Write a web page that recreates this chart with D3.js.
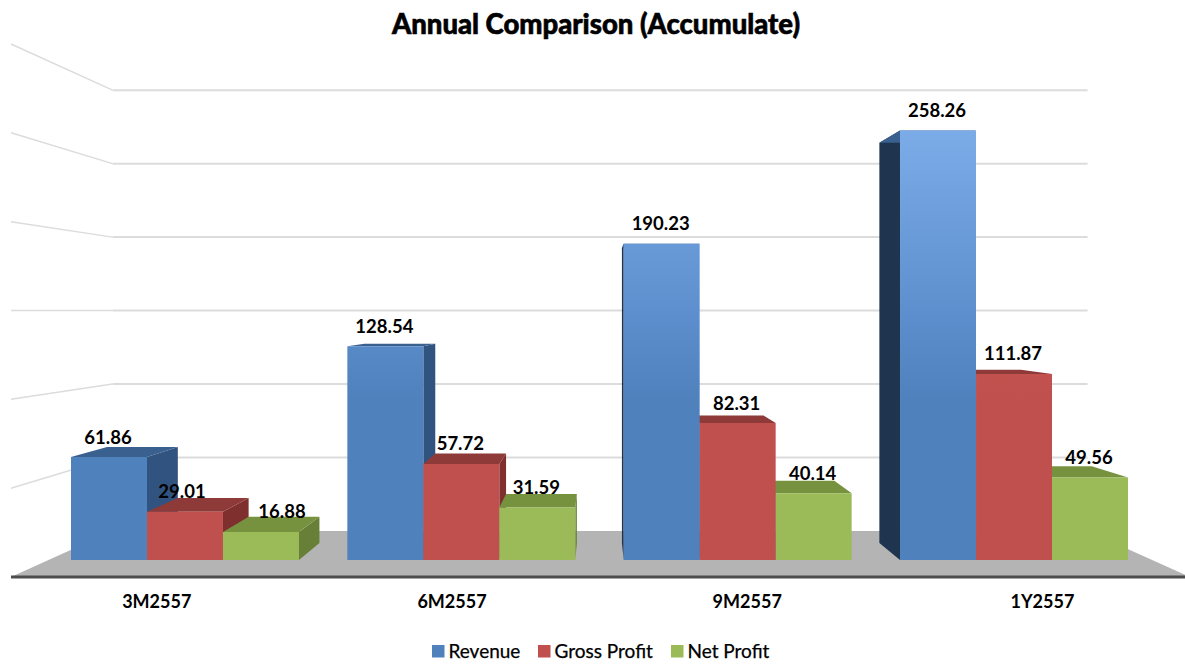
<!DOCTYPE html>
<html>
<head>
<meta charset="utf-8">
<script src="https://cdn.jsdelivr.net/npm/d3@7"></script>
<style>
  html, body { margin: 0; padding: 0; background: #fff; }
  text { font-family: Lato, "Open Sans", sans-serif; fill: #000; }
</style>
</head>
<body>
<div id="chart"></div>
<script>
const categories = ["3M2557", "6M2557", "9M2557", "1Y2557"];
const seriesNames = ["Revenue", "Gross Profit", "Net Profit"];
const revenue = [61.86, 128.54, 190.23, 258.26];
const grossProfit = [29.01, 57.72, 82.31, 111.87];
const netProfit = [16.88, 31.59, 40.14, 49.56];
const valueTicks = [50, 100, 150, 200, 250, 300];
const seriesValues = [revenue, grossProfit, netProfit];

const width = 1185;
const height = 666;

// fake 3d: everything shrinks toward a vanishing point, s is the depth scale
const vpX = 598, vpY = 311;
const floorDrop = 266;
const sFront = 1, sBarFront = 0.936, sBarBack = 0.872, sWall = 0.827;

const project = (wx, h, s) => [vpX + wx * s, vpY + (floorDrop - h) * s];

const x = d3.scaleBand().domain(categories).range([71, 1128]).paddingInner(0.175);
const xInner = d3.scaleBand().domain(seriesNames).range([0, x.bandwidth()]);
const h = d3.scaleLinear().domain([0, 300]).range([0, 533]);

const svg = d3.select("#chart").append("svg")
    .attr("width", width)
    .attr("height", height)
    .style("display", "block");

const defs = svg.append("defs");
const gradColors = [
  {id: "grad0", top: "#7cace8", mid: "#5c8ecd", bottom: "#4f81bd"},
  {id: "grad1", top: "#cd5a57", mid: "#c75653", bottom: "#c0504d"},
  {id: "grad2", top: "#a2c15e", mid: "#9fbe5c", bottom: "#9bbb59"}
];
gradColors.forEach(g => {
  const lg = defs.append("linearGradient")
      .attr("id", g.id)
      .attr("gradientUnits", "userSpaceOnUse")
      .attr("x1", 0).attr("x2", 0)
      .attr("y1", 130).attr("y2", 400);
  lg.append("stop").attr("offset", "0%").attr("stop-color", g.top);
  lg.append("stop").attr("offset", "70%").attr("stop-color", g.mid);
  lg.append("stop").attr("offset", "100%").attr("stop-color", g.bottom);
});

const topColors = ["#3a6090", "#8e3a38", "#76923f"];
const sideColors = ["#31537f", "#7f302e", "#677f37"];
const darkSide = "#1f344f";

const line = d3.line();
const poly = pts => line(pts) + "Z";

// walls
const wallLeft = -587, floorRight = 592;
const grid = svg.append("g").attr("fill", "none").attr("stroke", "#dcdcdc");
grid.selectAll(".back")
  .data(valueTicks)
  .join("path")
    .attr("class", "back")
    .attr("stroke-width", 2)
    .attr("d", v => line([project(wallLeft, h(v), sWall), project(floorRight, h(v), sWall)]));
grid.selectAll(".side")
  .data(valueTicks)
  .join("path")
    .attr("class", "side")
    .attr("stroke-width", 1.5)
    .attr("d", v => line([project(wallLeft, h(v), sFront), project(wallLeft, h(v), sWall)]));

// floor
svg.append("path")
    .attr("fill", "#b4b4b4")
    .attr("d", poly([
      project(wallLeft, 0, sFront), project(wallLeft, 0, sWall),
      project(floorRight, 0, sWall), project(floorRight, 0, sFront)
    ]));
svg.append("path")
    .attr("stroke", "#4d4d4d")
    .attr("stroke-width", 3)
    .attr("d", line([project(wallLeft, 0, sFront), project(floorRight, 0, sFront)]));

// bars, painted from the outside in so the inner ones cover the side faces
const bars = [];
categories.forEach((c, ci) => {
  const row = seriesNames.map((name, si) => {
    const sx = x(c) + xInner(name);
    return {
      category: c, si, value: seriesValues[si][ci],
      x0: (sx - vpX) / sBarFront,
      x1: (sx + xInner.bandwidth() - vpX) / sBarFront
    };
  });
  const leftOfVp = x(c) + x.bandwidth() / 2 < vpX;
  bars.push(...(leftOfVp ? row : row.reverse()));
});

const barG = svg.append("g");
const faces = barG.selectAll("g")
  .data(bars)
  .join("g");

// side face
faces.append("path")
    .attr("fill", d => d.x0 > 0 && d.value > 150 ? darkSide : sideColors[d.si])
    .attr("d", d => {
      const wx = d.x0 > 0 ? d.x0 : d.x1;
      return poly([
        project(wx, 0, sBarFront), project(wx, h(d.value), sBarFront),
        project(wx, h(d.value), sBarBack), project(wx, 0, sBarBack)
      ]);
    });

// top face
faces.append("path")
    .attr("fill", d => topColors[d.si])
    .attr("d", d => poly([
      project(d.x0, h(d.value), sBarFront), project(d.x1, h(d.value), sBarFront),
      project(d.x1, h(d.value), sBarBack), project(d.x0, h(d.value), sBarBack)
    ]));

// front face
faces.append("path")
    .attr("fill", d => `url(#grad${d.si})`)
    .attr("d", d => poly([
      project(d.x0, 0, sBarFront), project(d.x1, 0, sBarFront),
      project(d.x1, h(d.value), sBarFront), project(d.x0, h(d.value), sBarFront)
    ]));

// data labels
const labelShift = {"3M2557|2": 22, "3M2557|1": -2};
svg.append("g")
    .attr("font-size", 18.5)
    .attr("font-weight", 700)
    .attr("text-anchor", "middle")
  .selectAll("text")
  .data(bars)
  .join("text")
    .attr("x", d => project((d.x0 + d.x1) / 2, 0, sBarFront)[0] - 1 + (labelShift[d.category + "|" + d.si] || 0))
    .attr("y", d => project(d.x0, h(d.value), sBarFront)[1] - 20)
    .attr("dy", "0.35em")
    .text(d => d.value.toFixed(2));

// category labels sit under the front edge of the floor
const catCenter = c => (x(c) + x.bandwidth() / 2 - vpX) / sBarFront;
svg.append("g")
    .attr("font-size", 18)
    .attr("font-weight", 700)
    .attr("text-anchor", "middle")
  .selectAll("text")
  .data(categories)
  .join("text")
    .attr("x", c => project(catCenter(c), 0, sFront)[0])
    .attr("y", 602)
    .attr("dy", "0.35em")
    .text(c => c);

// title
svg.append("text")
    .attr("x", 596)
    .attr("y", 24)
    .attr("dy", "0.35em")
    .attr("text-anchor", "middle")
    .attr("font-size", 27.5)
    .attr("font-weight", 900)
    .style("stroke", "#000")
    .style("stroke-width", 0.6)
    .text("Annual Comparison (Accumulate)");

// legend
const legendColors = ["#4f81bd", "#c0504d", "#9bbb59"];
const legendX = d3.scaleOrdinal().domain(seriesNames).range([432, 538, 671]);
const legend = svg.append("g")
  .selectAll("g")
  .data(seriesNames)
  .join("g")
    .attr("transform", d => `translate(${legendX(d)},651)`);
legend.append("rect")
    .attr("y", -6)
    .attr("width", 12.5)
    .attr("height", 12.5)
    .attr("fill", (d, i) => legendColors[i]);
legend.append("text")
    .attr("x", 16.5)
    .attr("dy", "0.35em")
    .attr("font-size", 19)
    .style("stroke", "#000")
    .style("stroke-width", 0.25)
    .text(d => d);
</script>
</body>
</html>
